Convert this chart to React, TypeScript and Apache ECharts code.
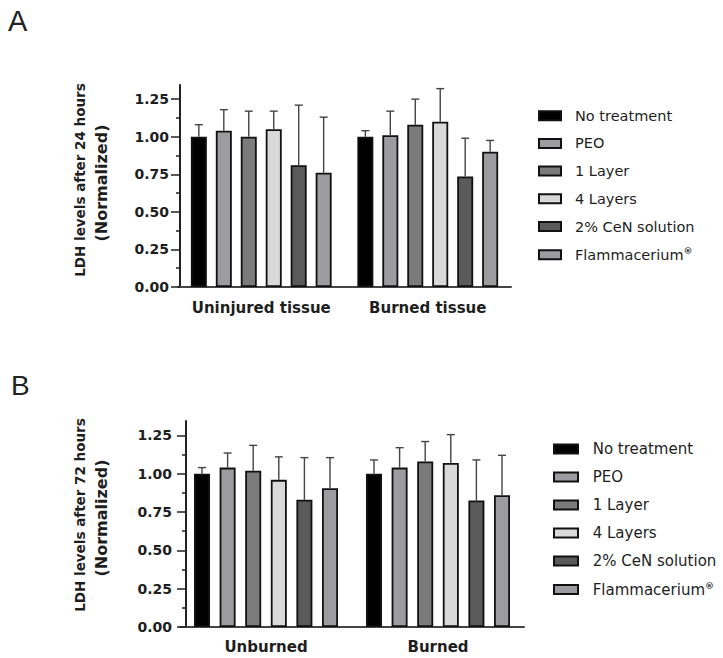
import React, { useEffect, useRef } from 'react';
import * as echarts from 'echarts';

const seriesNames = ['No treatment', 'PEO', '1 Layer', '4 Layers', '2% CeN solution', 'Flammacerium®'];
const seriesColors = ['#000000', '#9c9ca0', '#7b7b7b', '#d9d9d9', '#5a5a5a', '#9c9ca0'];

const categoriesA = ['Uninjured tissue', 'Burned tissue'];
const categoriesB = ['Unburned', 'Burned'];

// mean per treatment: [first category, second category]
const meanA = [[1.0, 1.0], [1.04, 1.01], [1.0, 1.08], [1.05, 1.1], [0.81, 0.735], [0.76, 0.9]];
const sdA = [[0.08, 0.04], [0.14, 0.16], [0.17, 0.17], [0.12, 0.22], [0.4, 0.255], [0.37, 0.075]];
const meanB = [[1.0, 1.0], [1.04, 1.04], [1.02, 1.08], [0.96, 1.07], [0.83, 0.825], [0.905, 0.86]];
const sdB = [[0.04, 0.09], [0.095, 0.13], [0.165, 0.13], [0.15, 0.185], [0.275, 0.265], [0.2, 0.26]];

const yTicks = [0, 0.25, 0.5, 0.75, 1.0, 1.25];
const yMinorTicks = [0.125, 0.375, 0.625, 0.875, 1.125];
const yMax = 1.344;

const FONT = 'DejaVu Sans';
const TXT = '#1e1e1e';

const BAR_W = 16;

function buildPanel(p: number, cats: string[], means: number[][], sds: number[][], gapFrac: number, yOffset: number, labelMargin: number, catMargin: number) {
  const xAxis = {
    type: 'category',
    gridIndex: p,
    data: cats,
    axisLine: { lineStyle: { color: '#444', width: 2 } },
    axisTick: { alignWithLabel: true, length: 6, lineStyle: { color: '#444', width: 1.5 } },
    axisLabel: { interval: 0, fontFamily: FONT, fontWeight: 'bold', fontSize: 15, color: TXT, margin: catMargin },
    splitLine: { show: false },
  };
  const yMain = {
    type: 'value',
    gridIndex: p,
    position: 'left',
    offset: yOffset,
    min: 0,
    max: yMax,
    axisLine: { show: true, lineStyle: { color: '#222', width: 2 } },
    axisTick: { show: true, length: 9, customValues: yTicks, lineStyle: { color: '#222', width: 1.5 } },
    axisLabel: {
      customValues: yTicks,
      formatter: (v: number) => v.toFixed(2),
      margin: labelMargin,
      fontFamily: FONT,
      fontWeight: 'bold',
      fontSize: 14,
      color: TXT,
    },
    splitLine: { show: false },
  };
  const yMinor = {
    type: 'value',
    gridIndex: p,
    position: 'left',
    offset: yOffset,
    min: 0,
    max: yMax,
    axisLine: { show: false },
    axisTick: { show: true, length: 4, customValues: yMinorTicks, lineStyle: { color: '#222', width: 1.5 } },
    axisLabel: { show: false },
    splitLine: { show: false },
  };
  const gapPct = Math.round(gapFrac * 100) + '%';
  const pitch = BAR_W * (1 + gapFrac);
  const bars = seriesNames.map((name, i) => ({
    type: 'bar',
    name,
    xAxisIndex: p,
    yAxisIndex: p * 2,
    data: means[i],
    barWidth: BAR_W,
    barGap: gapPct,
    itemStyle: { color: seriesColors[i], borderColor: '#111', borderWidth: 1.8 },
    z: 2,
  }));
  const errData: number[][] = [];
  seriesNames.forEach((_, i) => {
    means[i].forEach((m, c) => {
      errData.push([c, i, m, m + sds[i][c]]);
    });
  });
  const err = {
    type: 'custom',
    name: 'err' + p,
    xAxisIndex: p,
    yAxisIndex: p * 2,
    data: errData,
    encode: { x: 0, y: [2, 3] },
    z: 3,
    renderItem: (params: any, api: any) => {
      const c = api.value(0);
      const s = api.value(1);
      const base = api.coord([c, api.value(2)]);
      const top = api.coord([c, api.value(3)]);
      const x = base[0] + (s - 2.5) * pitch;
      const style = { stroke: '#444', lineWidth: 1.4 };
      return {
        type: 'group',
        children: [
          { type: 'line', shape: { x1: x, y1: base[1], x2: x, y2: top[1] }, style },
          { type: 'line', shape: { x1: x - 4, y1: top[1], x2: x + 4, y2: top[1] }, style },
        ],
      };
    },
  };
  return { xAxis, yAxes: [yMain, yMinor], series: [...bars, err] };
}

function legend(left: number, top: number, itemWidth: number, itemGap: number, fontSize: number, padLeft: number) {
  return {
    orient: 'vertical',
    left,
    top,
    icon: 'rect',
    itemWidth,
    itemHeight: 9,
    itemGap,
    selectedMode: false,
    data: seriesNames,
    itemStyle: { borderColor: '#111', borderWidth: 2 },
    formatter: (name: string) => (name === 'Flammacerium®' ? 'Flammacerium{sup|®}' : name),
    textStyle: {
      fontFamily: FONT,
      fontSize,
      color: TXT,
      lineHeight: 16,
      padding: [0, 0, 0, padLeft],
      rich: {
        sup: { fontFamily: FONT, fontSize: 9, fontWeight: 'bold', color: TXT, padding: [0, 0, 8, 0] },
      },
    },
  };
}

function yTitle(x: number, y: number, text: string, fontSize: number) {
  return {
    type: 'text', x, y, rotation: Math.PI / 2,
    style: { text, fontFamily: FONT, fontWeight: 'bold', fontSize, fill: TXT, textAlign: 'center', textVerticalAlign: 'middle' },
  };
}

export default function App() {
  const ref = useRef<HTMLDivElement>(null);
  useEffect(() => {
    if (!ref.current) return;
    const chart = echarts.init(ref.current, undefined, { renderer: 'svg' });
    const pA = buildPanel(0, categoriesA, meanA, sdA, 0.56, -2, 11, 13);
    const pB = buildPanel(1, categoriesB, meanB, sdB, 0.6, -6, 14, 12);
    const option = {
      animation: false,
      backgroundColor: '#ffffff',
      grid: [
        { left: 178, top: 85, width: 333, height: 202 },
        { left: 180, top: 421, width: 344, height: 206 },
      ],
      xAxis: [pA.xAxis, pB.xAxis],
      yAxis: [...pA.yAxes, ...pB.yAxes],
      legend: [legend(533, 102.7, 22, 11.7, 14.5, 9), legend(548, 436, 24, 12, 15, 9.7)],
      series: [...pA.series, ...pB.series],
      graphic: [
        { type: 'text', x: 8, y: 6, style: { text: 'A', fontFamily: 'Liberation Sans', fontSize: 29, fill: '#222' } },
        { type: 'text', x: 11, y: 371, style: { text: 'B', fontFamily: 'Liberation Sans', fontSize: 28, fill: '#222' } },
        yTitle(80, 180, 'LDH levels after 24 hours', 13.5),
        yTitle(101, 183, '(Normalized)', 16),
        yTitle(80, 515, 'LDH levels after 72 hours', 13.5),
        yTitle(101, 518, '(Normalized)', 16),
      ],
    };
    chart.setOption(option as any);
    return () => chart.dispose();
  }, []);
  return <div ref={ref} style={{ position: 'fixed', left: 0, top: 0, width: 723, height: 658, background: '#fff' }} />;
}
